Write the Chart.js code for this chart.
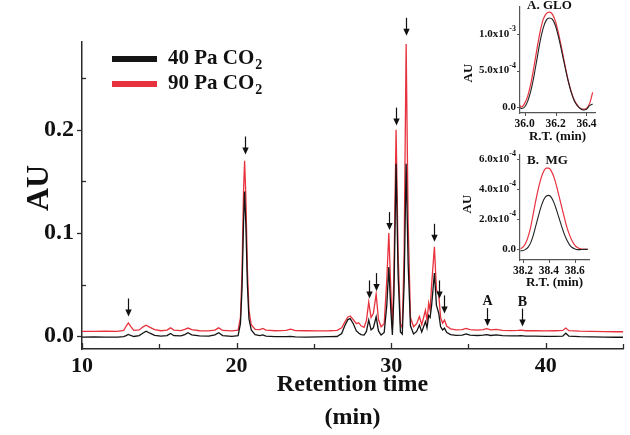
<!DOCTYPE html>
<html><head><meta charset="utf-8">
<script src="https://cdn.jsdelivr.net/npm/chart.js@4"></script>
<style>
html,body{margin:0;padding:0;background:#fff;}
#wrap{position:relative;width:630px;height:435px;overflow:hidden;}
canvas{position:absolute;}
#main{left:0;top:0;}
#insA{left:460px;top:0px;}
#insB{left:460px;top:145px;}
</style></head><body>
<div id="wrap">
<canvas id="main" width="630" height="435"></canvas>
<canvas id="insA" width="170" height="145"></canvas>
<canvas id="insB" width="170" height="145"></canvas>
</div>
<script>
// ---------- main chromatogram data ----------
const times = [
10.0,10.8,11.5,12.3,12.7,12.85,13.0,13.15,13.35,13.7,
13.95,14.15,14.4,14.7,15.1,15.5,15.73,15.95,16.4,16.65,
16.85,17.1,17.6,18.2,18.6,18.84,19.1,19.7,20.1,20.25,
20.35,20.45,20.52,20.6,20.7,20.8,20.95,21.2,21.5,21.7,
21.9,22.5,23.2,23.5,23.8,24.5,25.3,26.0,26.5,26.8,
27.0,27.2,27.35,27.55,27.75,27.9,28.05,28.25,28.4,28.55,
28.7,28.85,29.03,29.18,29.35,29.55,29.72,29.85,29.98,30.08,
30.18,30.32,30.45,30.6,30.72,30.84,30.97,31.1,31.25,31.45,
31.65,31.83,31.98,32.1,32.22,32.32,32.43,32.52,32.62,32.8,
32.93,33.08,33.2,33.33,33.45,33.6,33.85,34.2,34.6,34.85,
35.1,35.6,35.95,36.18,36.45,36.8,37.2,37.8,38.2,38.4,
38.7,39.3,40.0,40.6,41.1,41.3,41.5,42.2,43.0,43.8,
44.5,45.0];
const au90 = [
.0045,.0045,.0048,.0046,.0055,.0095,.0128,.0095,.0055,.0060,
.0090,.0105,.0085,.0062,.0052,.0058,.0080,.0058,.0054,.0065,
.0078,.0062,.0052,.0050,.0058,.0080,.0055,.0050,.0058,.018,
.060,.140,.170,.135,.065,.025,.011,.0065,.0062,.0075,
.0058,.0052,.0055,.0068,.0054,.0052,.0050,.0052,.0056,.0080,
.0135,.0185,.0195,.0160,.0120,.0130,.0100,.0085,.0150,.0330,
.0180,.0220,.0407,.0160,.0090,.0120,.0550,.1000,.0450,.0070,
.0600,.2000,.0800,.0120,.0080,.0800,.2830,.1100,.0180,.0090,
.0120,.0190,.0110,.0180,.0250,.0150,.0320,.0250,.0500,.0866,
.0450,.0400,.0180,.0125,.0155,.0095,.0070,.0060,.0062,.0075,
.0062,.0058,.0063,.0072,.0060,.0065,.0056,.0054,.0055,.0058,
.0052,.0053,.0050,.0052,.0055,.0078,.0053,.0048,.0046,.0044,
.0042,.0042];
const au40 = [
-.0010,-.0008,-.0010,-.0009,-.0005,.0005,.0016,.0006,-.0004,.0005,
.0030,.0048,.0028,.0008,.0000,.0005,.0026,.0004,.0002,.0015,
.0032,.0012,.0002,.0000,.0012,.0032,.0005,-.0002,.0005,.012,
.045,.110,.140,.108,.050,.017,.006,.0015,.0005,.0012,
.0000,-.0005,-.0006,-.0002,-.0008,-.0009,-.0008,-.0006,-.0004,.0025,
.0100,.0160,.0170,.0120,.0050,.0030,.0015,.0010,.0045,.0155,
.0060,.0080,.0187,.0050,.0010,.0035,.0300,.0670,.0250,.0010,
.0400,.1670,.0600,.0040,.0020,.0500,.1670,.0700,.0100,.0020,
.0045,.0107,.0040,.0090,.0140,.0080,.0200,.0180,.0300,.0610,
.0300,.0220,.0090,.0060,.0077,.0035,.0015,.0008,.0010,.0022,
.0010,.0006,.0010,.0015,.0006,.0012,.0004,.0002,.0002,.0004,
.0000,-.0001,-.0003,-.0002,.0000,.0028,-.0001,-.0006,-.0008,-.0010,
-.0011,-.0011];

const seriesLabels = ['40 Pa CO₂','90 Pa CO₂'];
const legendMain = ['40 Pa CO','90 Pa CO'];
const legendSub = ['2','2'];

const xTickValues = [10,15,20,25,30,35,40,45];
const xTickLabels = ['10','','20','','30','','40',''];
const yTickValues = [0,0.05,0.1,0.15,0.2,0.25];
const yTickLabels = ['0.0','','0.1','','0.2',''];
const xTitle = ['Retention time','(min)'];
const yTitle = 'AU';

// arrows marking peaks
const arrowTimes = [13.0,20.52,28.55,29.03,29.85,30.32,30.97,32.8,33.08,33.45,36.18,38.44];
const arrowTips  = [0.019,0.176,0.0365,0.0436,0.1027,0.204,0.291,0.0914,0.0365,0.022,0.0097,0.0092];
const arrowLetters = ['','','','','','','','','','','A','B'];

// ---------- inset A: GLO ----------
const gloTimes = [35.97,35.98,36.00,36.02,36.04,36.06,36.08,36.10,36.12,36.14,36.16,36.18,36.20,36.22,36.24,36.26,36.28,36.30,36.32,36.34,36.36,36.38,36.40,36.42,36.44];
const glo90 = [0.02,0.0,0.05,0.15,0.32,0.55,0.80,1.03,1.20,1.28,1.30,1.27,1.17,1.00,0.80,0.58,0.38,0.22,0.10,0.03,-0.02,-0.03,-0.02,0.05,0.20]; // x10^-3 AU
const glo40 = [-0.01,-0.02,0.0,0.08,0.22,0.42,0.66,0.90,1.08,1.19,1.22,1.20,1.11,0.95,0.76,0.56,0.37,0.21,0.09,0.02,-0.02,-0.04,-0.03,0.02,0.04];
const gloXTicks = [36.0,36.2,36.4];
const gloXLabels = ['36.0','36.2','36.4'];
const gloYTicks = [0,0.5,1.0];
const gloYMant = ['0.0','5.0x10','1.0x10'];
const gloYExp = ['','-4','-3'];

// ---------- inset B: MG ----------
const mgTimes = [38.18,38.20,38.22,38.24,38.26,38.28,38.30,38.32,38.34,38.36,38.38,38.40,38.42,38.44,38.46,38.48,38.50,38.52,38.54,38.56,38.58,38.60,38.62,38.64,38.66,38.70];
const mg90 = [0.05,0.15,0.4,0.85,1.5,2.4,3.3,4.1,4.75,5.2,5.42,5.42,5.2,4.8,4.2,3.5,2.8,2.1,1.45,0.95,0.55,0.28,0.12,0.05,0.01,0.0]; // x10^-4 AU
const mg40 = [-0.1,-0.08,0.0,0.15,0.45,0.95,1.6,2.25,2.85,3.3,3.56,3.6,3.45,3.1,2.6,2.05,1.5,1.0,0.6,0.3,0.12,0.03,-0.02,-0.02,-0.01,0.0];
const mgXTicks = [38.2,38.4,38.6];
const mgXLabels = ['38.2','38.4','38.6'];
const mgYTicks = [0,2,4,6];
const mgYMant = ['0.0','2.0x10','4.0x10','6.0x10'];
const mgYExp = ['','-4','-4','-4'];

// ---------- styling ----------
const FONT = "'Liberation Serif','Times New Roman',serif";
const BLACK = '#141414', RED = '#e8323d', TXT = '#111', AXIS = '#2a2a2a';

function pts(xs, ys){ return xs.map((x,i)=>({x:x,y:ys[i]})); }

const tickPlugin = {
  id:'mainTicks',
  afterDraw(chart){
    const {ctx, scales:{x,y}, chartArea:a} = chart;
    ctx.save(); ctx.strokeStyle = AXIS; ctx.lineWidth = 1.3;
    xTickValues.forEach((v,i)=>{
      const px = Math.round(x.getPixelForValue(v))+0.5;
      const len = xTickLabels[i] ? 6 : 5;
      ctx.beginPath(); ctx.moveTo(px,a.bottom); ctx.lineTo(px,a.bottom-len); ctx.stroke();
    });
    yTickValues.forEach((v,i)=>{
      const py = Math.round(y.getPixelForValue(v))+0.5;
      ctx.beginPath();
      if (yTickLabels[i]) { ctx.moveTo(a.left-5,py); ctx.lineTo(a.left,py); }
      else { ctx.moveTo(a.left,py); ctx.lineTo(a.left+4,py); }
      ctx.stroke();
    });
    // y-axis title
    ctx.save();
    ctx.translate(40, 188); ctx.rotate(-Math.PI/2);
    ctx.fillStyle = TXT; ctx.font = `bold 32px ${FONT}`; ctx.textAlign = 'center'; ctx.textBaseline = 'middle';
    ctx.fillText(yTitle, 0, 0);
    ctx.restore();
    ctx.restore();
  }
};

const arrowPlugin = {
  id:'arrows',
  afterDatasetsDraw(chart){
    const {ctx, scales:{x,y}} = chart;
    ctx.save(); ctx.strokeStyle = '#111'; ctx.fillStyle = '#111'; ctx.lineWidth = 1.2;
    arrowTimes.forEach((t,i)=>{
      const px = Math.round(x.getPixelForValue(t))+0.5, py = y.getPixelForValue(arrowTips[i]);
      ctx.beginPath(); ctx.moveTo(px,py-18); ctx.lineTo(px,py-5); ctx.stroke();
      ctx.beginPath(); ctx.moveTo(px-3.2,py-7); ctx.lineTo(px+3.2,py-7); ctx.lineTo(px,py); ctx.closePath(); ctx.fill();
      if (arrowLetters[i]) {
        ctx.font = `bold 14px ${FONT}`; ctx.textAlign = 'center'; ctx.textBaseline = 'alphabetic';
        ctx.fillText(arrowLetters[i], px, py-21);
      }
    });
    ctx.restore();
  }
};

const legendPlugin = {
  id:'legendSub',
  afterDraw(chart){
    const ctx = chart.ctx;
    chart.data.datasets.forEach((ds,i)=>{
      const y = 59 + i*25;
      ctx.save();
      ctx.strokeStyle = ds.borderColor; ctx.lineWidth = 6;
      ctx.beginPath(); ctx.moveTo(112,y); ctx.lineTo(157,y); ctx.stroke();
      ctx.fillStyle = TXT; ctx.font = `bold 21px ${FONT}`; ctx.textBaseline = 'middle'; ctx.textAlign='left';
      ctx.fillText(legendMain[i], 168, y);
      const w = ctx.measureText(legendMain[i]).width;
      ctx.font = `bold 14px ${FONT}`;
      ctx.fillText(legendSub[i], 168+w+1, y+6);
      ctx.restore();
    });
  }
};

new Chart(document.getElementById('main'), {
  type:'line',
  data:{ datasets:[
    {label:seriesLabels[0], data:pts(times,au40), borderColor:BLACK, borderWidth:1.3, pointRadius:0, tension:0, fill:false},
    {label:seriesLabels[1], data:pts(times,au90), borderColor:RED, borderWidth:1.3, pointRadius:0, tension:0, fill:false}
  ]},
  options:{
    responsive:false, animation:false, devicePixelRatio:1,
    layout:{padding:{left:0,right:7,top:42,bottom:0}},
    plugins:{legend:{display:false}, tooltip:{enabled:false}},
    scales:{
      x:{type:'linear', min:10, max:45,
        afterBuildTicks:s=>{ s.ticks = xTickValues.map(v=>({value:v})); },
        afterFit:s=>{ s.height = 86; },
        grid:{display:false, drawTicks:false},
        border:{display:true, color:AXIS, width:1.5},
        ticks:{autoSkip:false, maxRotation:0, padding:4, color:TXT, font:{family:FONT,size:22,weight:'bold'}, callback:(v,i)=>xTickLabels[i]},
        title:{display:true, text:xTitle, color:TXT, font:{family:FONT,size:24,weight:'bold',lineHeight:1.4}, padding:{top:0,bottom:0}}
      },
      y:{type:'linear', min:-0.0125, max:0.285,
        afterBuildTicks:s=>{ s.ticks = yTickValues.map(v=>({value:v})); },
        afterFit:s=>{ s.width = 82; },
        grid:{display:false, drawTicks:false},
        border:{display:true, color:AXIS, width:1.5},
        ticks:{autoSkip:false, padding:8, color:TXT, font:{family:FONT,size:24,weight:'bold'}, callback:(v,i)=>yTickLabels[i]},
        title:{display:false, text:yTitle}
      }
    }
  },
  plugins:[tickPlugin, arrowPlugin, legendPlugin]
});

function makeInset(id, o){
  const insetPlugin = {
    id:'inset_'+id,
    afterDraw(chart){
      const {ctx, scales:{x,y}, chartArea:a} = chart;
      ctx.save();
      ctx.strokeStyle = '#555'; ctx.lineWidth = 1;
      o.xTicks.forEach(v=>{ const px = Math.round(x.getPixelForValue(v))+0.5; ctx.beginPath(); ctx.moveTo(px,a.bottom); ctx.lineTo(px,a.bottom+3); ctx.stroke(); });
      o.yTicks.forEach(v=>{ const py = Math.round(y.getPixelForValue(v))+0.5; ctx.beginPath(); ctx.moveTo(a.left-3,py); ctx.lineTo(a.left,py); ctx.stroke(); });
      ctx.fillStyle = TXT; ctx.textBaseline = 'middle'; ctx.textAlign = 'left';
      o.yTicks.forEach((v,i)=>{
        const py = y.getPixelForValue(v);
        const m = o.yMant[i], e = o.yExp[i];
        ctx.font = `bold 11px ${FONT}`; const wm = ctx.measureText(m).width;
        ctx.font = `bold 8px ${FONT}`; const we = e ? ctx.measureText(e).width : 0;
        const xr = a.left - 4;
        ctx.font = `bold 11px ${FONT}`; ctx.fillText(m, xr-wm-we, py);
        if (e){ ctx.font = `bold 8px ${FONT}`; ctx.fillText(e, xr-we, py-5); }
      });
      ctx.font = `bold 13px ${FONT}`; ctx.textBaseline = 'middle'; ctx.textAlign = 'left';
      ctx.fillText(o.title, o.titleX, o.titleY);
      ctx.save(); ctx.translate(o.auX, o.auY); ctx.rotate(-Math.PI/2); ctx.textAlign='center';
      ctx.font = `bold 13px ${FONT}`; ctx.fillText('AU', 0, 0); ctx.restore();
      ctx.restore();
    }
  };
  new Chart(document.getElementById(id), {
    type:'line',
    data:{ datasets:[
      {label:seriesLabels[0], data:pts(o.t,o.b), borderColor:'#222', borderWidth:1.1, pointRadius:0, cubicInterpolationMode:'monotone', fill:false},
      {label:seriesLabels[1], data:pts(o.t,o.r), borderColor:RED, borderWidth:1.2, pointRadius:0, cubicInterpolationMode:'monotone', fill:false}
    ]},
    options:{
      responsive:false, animation:false, devicePixelRatio:1,
      layout:{padding:{left:0,right:o.padR,top:o.padT,bottom:0}},
      plugins:{legend:{display:false}, tooltip:{enabled:false}},
      scales:{
        x:{type:'linear', min:o.xmin, max:o.xmax,
          afterBuildTicks:s=>{ s.ticks = o.xTicks.map(v=>({value:v})); },
          afterFit:s=>{ s.height = o.xh; },
          grid:{display:false, drawTicks:false},
          border:{display:true, color:'#555', width:1.2},
          ticks:{autoSkip:false, maxRotation:0, padding:4, color:TXT, font:{family:FONT,size:11.5,weight:'bold'}, callback:(v,i)=>o.xLabels[i]},
          title:{display:true, text:'R.T. (min)', color:TXT, font:{family:FONT,size:13,weight:'bold',lineHeight:1.2}, padding:{top:0,bottom:o.titlePad}}
        },
        y:{type:'linear', min:o.ymin, max:o.ymax,
          afterBuildTicks:s=>{ s.ticks = o.yTicks.map(v=>({value:v})); },
          afterFit:s=>{ s.width = 60; },
          grid:{display:false, drawTicks:false},
          border:{display:true, color:'#555', width:1.2},
          ticks:{display:false}
        }
      }
    },
    plugins:[insetPlugin]
  });
}

makeInset('insA', {t:gloTimes, r:glo90, b:glo40, xTicks:gloXTicks, xLabels:gloXLabels, yTicks:gloYTicks, yMant:gloYMant, yExp:gloYExp,
  xmin:35.97, xmax:36.455, ymin:-0.082, ymax:1.37, padR:35, padT:7, xh:32, titlePad:1,
  title:'A. GLO', titleX:67, titleY:6, auX:9, auY:73});
makeInset('insB', {t:mgTimes, r:mg90, b:mg40, xTicks:mgXTicks, xLabels:mgXLabels, yTicks:mgYTicks, yMant:mgYMant, yExp:mgYExp,
  xmin:38.177, xmax:38.71, ymin:-0.71, ymax:6.29, padR:41, padT:10, xh:30, titlePad:0,
  title:'B.  MG', titleX:67, titleY:16, auX:8, auY:59});
</script>
</body></html>
